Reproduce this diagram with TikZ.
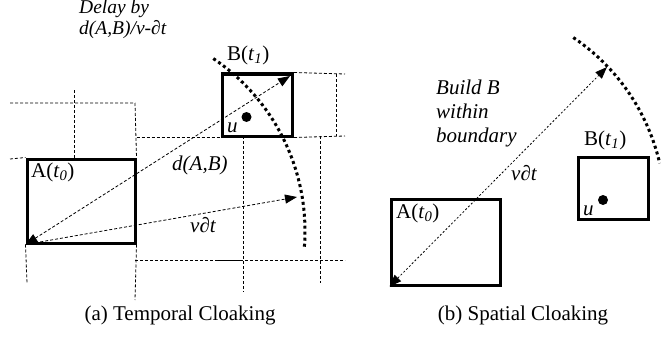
\documentclass[tikz,border=0pt]{standalone}
\usepackage{fontspec}
\setmainfont{Liberation Serif}
\usetikzlibrary{arrows.meta}

\begin{document}
\begin{tikzpicture}[x=1pt,y=-1pt,>={Triangle[length=12pt,width=9pt]},
  box/.style={draw,line width=3pt,inner sep=0pt},
  cell/.style={line width=0.8pt,dash pattern=on 3pt off 2pt},
  reach/.style={line width=3pt,dash pattern=on 3pt off 3pt},
  link/.style={line width=0.8pt,dash pattern=on 3pt off 2pt},
  dot/.style={circle,fill,inner sep=0pt,minimum size=10pt},
  lbl/.style={inner sep=0pt,anchor=base west,font=\fontsize{21}{24}\selectfont},
  note/.style={lbl,font=\fontsize{19.5}{22}\selectfont\itshape}]
\useasboundingbox (0,0) rectangle (661,337);
% (a) temporal cloaking
\node[box,minimum width=108pt,minimum height=84pt] (A1) at (81,201) {};
\node[box,minimum width=70pt,minimum height=62pt] (B1) at (257.5,105) {};
\draw[cell] (10,103) -- (135,103) -- (A1.north east);
\draw[cell] (74,90) -- (74,159);
\draw[cell] (10,159) -- (A1.north west);
\draw[cell] (A1.east |- B1.south) -- (B1.south west);
\draw[cell] (B1.north east) -- (345,74);
\draw[cell] (B1.south east) -- (345,136);
\draw[cell] (336,74) -- (336,136);
\draw[cell] (243,136) -- (243,292);
\draw[cell] (320,136) -- (320,283);
\draw[cell] (135,260) -- (345,260);
\draw[cell] (A1.south east) -- (135,300);
\draw[cell] (A1.south west) -- (27,283);
\draw[line width=0.9pt] (218,260) -- (243,260);
\draw[reach] (97,231) ++(-56:208) arc[start angle=-56,end angle=4.4,radius=208];
\coordinate (tipAB) at (290,76);
\coordinate (tipV1) at (297,197);
\draw[link,<->] (A1.south west) -- (tipAB);
\draw[link,->] (A1.south west) -- (tipV1);
\node[dot] (u1) at (246.5,117) {};
\node[lbl] (labA1) at (31,177) {A(\textit{t}\textsubscript{\textit{0}})};
\node[lbl] (labB1) at (227,60) {B(\textit{t}\textsubscript{\textit{1}})};
\node[lbl] (labU1) at (227,132) {\textit{u}};
\node[lbl] (labD) at (172,170) {\textit{d(A,B)}};
\node[lbl] (labV1) at (190,232) {\textit{v∂t}};
\node[note] (delay1) at (79,14) {Delay by};
\node[note] (delay2) at (79,35) {d(A,B)/v-∂t};
\node[lbl,anchor=base] (capA) at (180,320) {(a) Temporal Cloaking};
% (b) spatial cloaking
\node[box,minimum width=109pt,minimum height=86pt] (A2) at (445.5,242) {};
\node[box,minimum width=70pt,minimum height=62pt] (B2) at (613,188) {};
\draw[reach] (457,210) ++(-56:208) arc[start angle=-56,end angle=-13,radius=208];
\coordinate (tipV2) at (607,67);
\draw[link,<->,dash pattern=on 2pt off 2pt] (A2.south west) -- (tipV2);
\node[dot] (u2) at (603,200) {};
\node[lbl] (labA2) at (396,218) {A(\textit{t}\textsubscript{\textit{0}})};
\node[lbl] (labB2) at (584,145) {B(\textit{t}\textsubscript{\textit{1}})};
\node[lbl] (labU2) at (583,215) {\textit{u}};
\node[lbl] (labV2) at (511,180) {\textit{v∂t}};
\node[lbl,font=\fontsize{21}{24}\selectfont\itshape] (build1) at (436,95) {Build B};
\node[lbl,font=\fontsize{21}{24}\selectfont\itshape] (build2) at (436,118) {within};
\node[lbl,font=\fontsize{21}{24}\selectfont\itshape] (build3) at (436,142) {boundary};
\node[lbl,anchor=base] (capB) at (523,320) {(b) Spatial Cloaking};
\end{tikzpicture}
\end{document}
